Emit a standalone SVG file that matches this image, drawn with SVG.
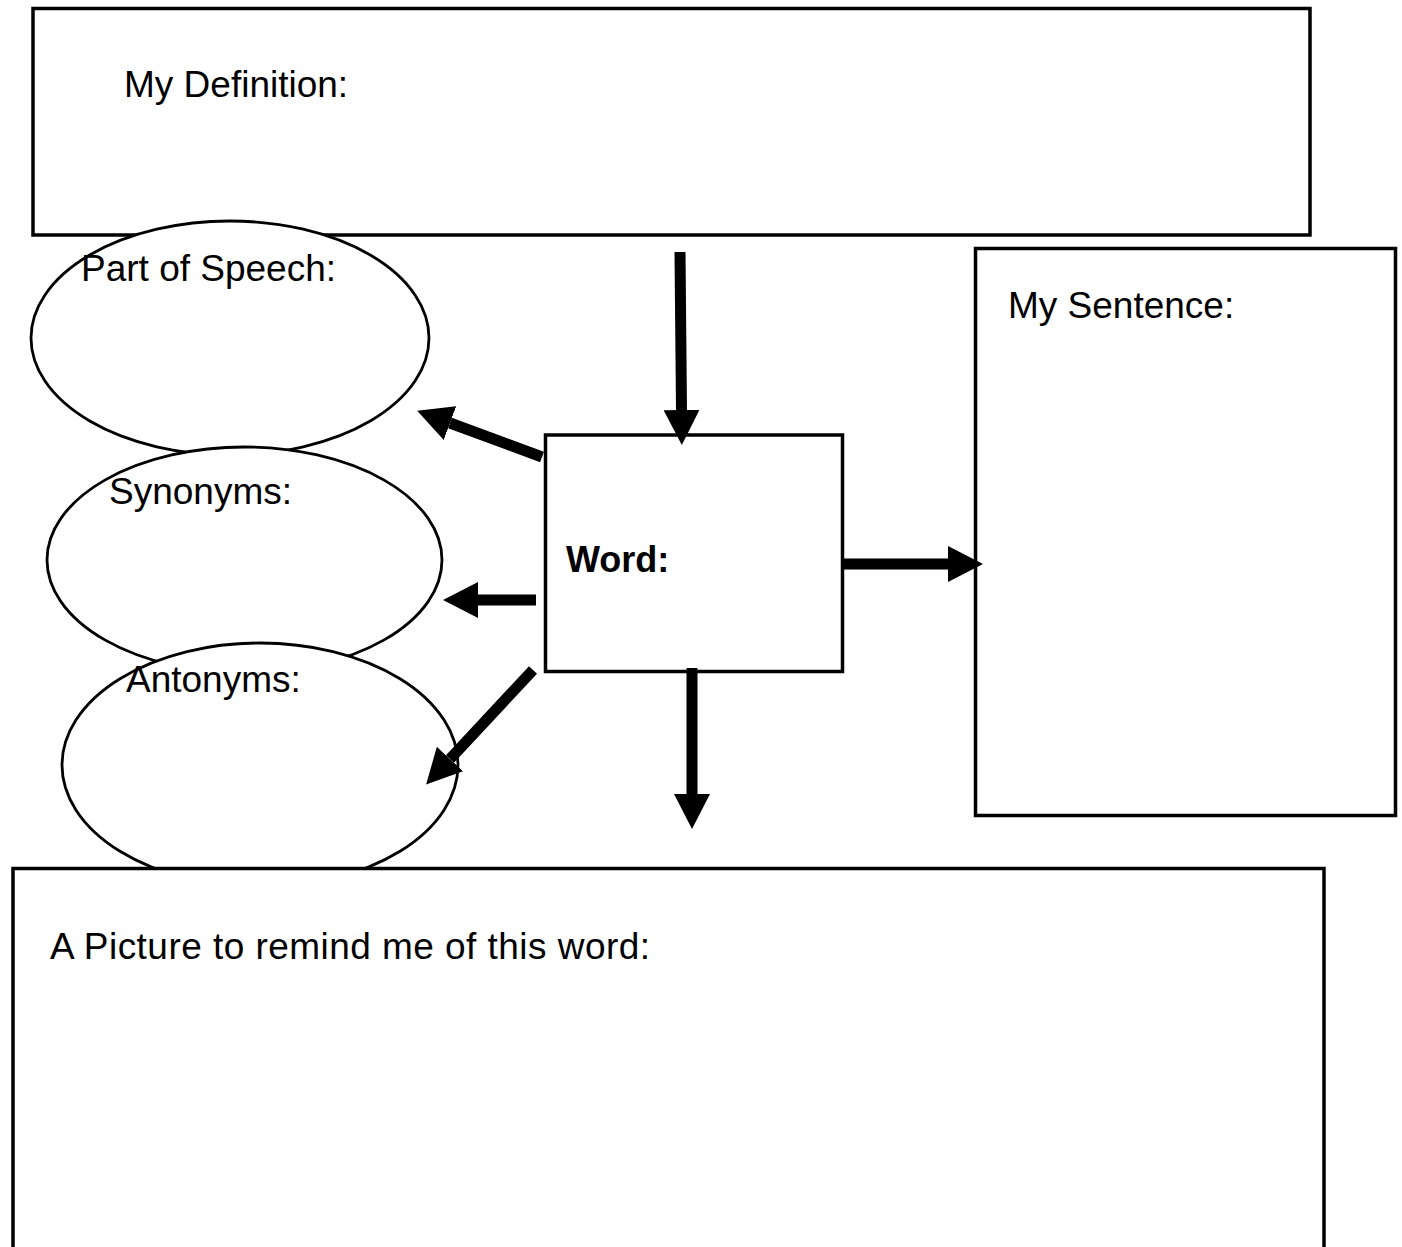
<svg xmlns="http://www.w3.org/2000/svg" width="1402" height="1247" viewBox="0 0 1402 1247">
<style>
.box{fill:#fff;stroke:#000;stroke-width:3.5}
.ell{fill:#fff;stroke:#000;stroke-width:2.8}
.t{font-family:"Liberation Sans",Arial,sans-serif;font-size:37px;fill:#000}
.b{font-weight:bold;font-size:36px}
.arr{stroke:#000;stroke-width:11;fill:none;marker-end:url(#ah)}
</style>
<defs>
<marker id="ah" markerUnits="userSpaceOnUse" markerWidth="36" markerHeight="36" refX="0" refY="18" orient="auto">
<path d="M0,0 L35,18 L0,36 z" fill="#000"/>
</marker>
</defs>
<rect width="1402" height="1247" fill="#fff"/>
<g id="definition">
<rect class="box" x="33" y="8.5" width="1277" height="226.5"/>
<text class="t" x="124" y="97">My Definition:</text>
</g>
<g id="part-of-speech">
<ellipse class="ell" cx="230" cy="338" rx="199" ry="117"/>
<text class="t" x="81" y="281">Part of Speech:</text>
</g>
<g id="synonyms">
<ellipse class="ell" cx="244.5" cy="560" rx="197.5" ry="113"/>
<text class="t" x="109" y="504">Synonyms:</text>
</g>
<g id="antonyms">
<ellipse class="ell" cx="260" cy="765" rx="198" ry="122"/>
<text class="t" x="126" y="692">Antonyms:</text>
</g>
<g id="word">
<rect class="box" x="545.5" y="435" width="297" height="236.5"/>
<text class="t b" x="566" y="572">Word:</text>
</g>
<g id="sentence">
<rect class="box" x="975.5" y="248.5" width="420" height="567"/>
<text class="t" x="1008" y="318">My Sentence:</text>
</g>
<g id="picture">
<rect class="box" x="13" y="868.5" width="1311" height="400"/>
<text class="t" x="50" y="959" textLength="600">A Picture to remind me of this word:</text>
</g>
<g id="connectors">
<line class="arr" x1="680" y1="252" x2="681.5" y2="410"/>
<line class="arr" x1="542" y1="457" x2="450" y2="423"/>
<line class="arr" x1="536" y1="600" x2="478" y2="600"/>
<line class="arr" x1="533" y1="670" x2="450" y2="759"/>
<line class="arr" x1="692" y1="668" x2="692" y2="794"/>
<line class="arr" x1="843" y1="564" x2="948" y2="564"/>
</g>
</svg>
